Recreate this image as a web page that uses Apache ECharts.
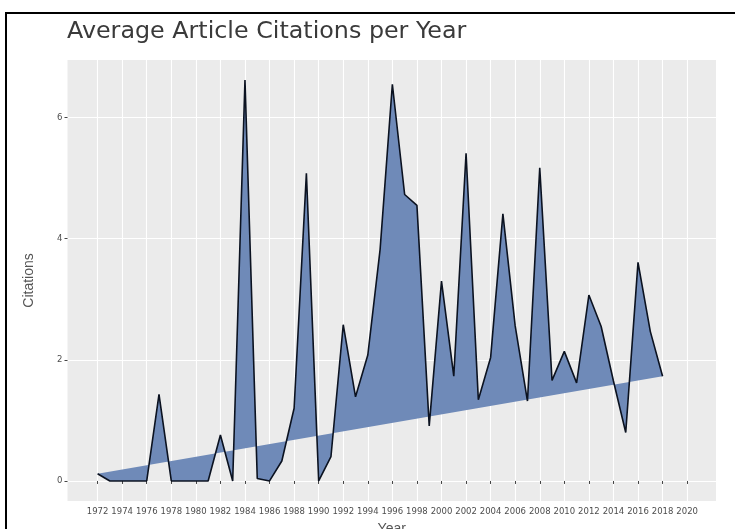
<!DOCTYPE html>
<html>
<head>
<meta charset="utf-8">
<script src="https://cdn.jsdelivr.net/npm/echarts@6/dist/echarts.min.js"></script>
<style>
  html, body { margin: 0; padding: 0; background: #fff; }
  #main { width: 735px; height: 529px; }
</style>
</head>
<body>
<div id="main"></div>
<script>
  // years and average citations
  var years = [1972, 1973, 1974, 1975, 1976, 1977, 1978, 1979, 1980, 1981,
               1982, 1983, 1984, 1985, 1986, 1987, 1988, 1989, 1990, 1991,
               1992, 1993, 1994, 1995, 1996, 1997, 1998, 1999, 2000, 2001,
               2002, 2003, 2004, 2005, 2006, 2007, 2008, 2009, 2010, 2011,
               2012, 2013, 2014, 2015, 2016, 2017, 2018];
  var citations = [0.12, 0, 0, 0, 0, 1.43, 0, 0, 0, 0,
                   0.76, 0, 6.62, 0.04, 0, 0.33, 1.2, 5.08, 0, 0.4,
                   2.58, 1.39, 2.08, 3.82, 6.55, 4.73, 4.55, 0.91, 3.30, 1.73,
                   5.41, 1.34, 2.04, 4.41, 2.56, 1.32, 5.17, 1.66, 2.14, 1.62,
                   3.07, 2.55, 1.65, 0.80, 3.61, 2.47, 1.73];
  var xTicks = [1972, 1974, 1976, 1978, 1980, 1982, 1984, 1986, 1988, 1990,
                1992, 1994, 1996, 1998, 2000, 2002, 2004, 2006, 2008, 2010,
                2012, 2014, 2016, 2018, 2020];
  var yTicks = [0, 2, 4, 6];

  var points = years.map(function (y, i) { return [y, citations[i]]; });

  var myChart = echarts.init(document.getElementById('main'));

  var option = {
    backgroundColor: '#fff',
    animation: false,
    title: {
      text: 'Average Article Citations per Year',
      left: 62,
      top: 15,
      textStyle: { fontFamily: 'DejaVu Sans', fontSize: 23.8, fontWeight: 'normal', color: '#3a3a3a' }
    },
    grid: {
      left: 67.5, right: 19, top: 60, bottom: 28,
      show: true, backgroundColor: '#EBEBEB', borderWidth: 0,
      containLabel: false,
      outerBoundsMode: 'none'
    },
    xAxis: {
      type: 'value',
      min: 1969.55,
      max: 2022.35,
      name: 'Year',
      nameLocation: 'middle',
      nameGap: 21,
      nameTextStyle: { fontFamily: 'Liberation Sans', fontSize: 14, color: '#555' },
      axisLine: { show: false },
      axisTick: { show: true, length: 3, lineStyle: { color: '#444', width: 1 }, customValues: xTicks },
      axisLabel: { customValues: xTicks, margin: 6, fontFamily: 'DejaVu Sans', fontSize: 8.5, color: '#4d4d4d',
                   formatter: function (v) { return String(v); } },
      splitLine: { show: true, lineStyle: { color: '#fff', width: 1.1 } }
    },
    yAxis: {
      type: 'value',
      min: -0.331,
      max: 6.951,
      name: 'Citations',
      nameLocation: 'middle',
      nameGap: 31,
      nameRotate: 90,
      nameTextStyle: { fontFamily: 'Liberation Sans', fontSize: 14, color: '#555' },
      axisLine: { show: false },
      axisTick: { show: true, length: 3, lineStyle: { color: '#444', width: 1 }, customValues: yTicks },
      axisLabel: { customValues: yTicks, margin: 5, fontFamily: 'DejaVu Sans', fontSize: 8.5, color: '#4d4d4d' },
      splitLine: { show: true, lineStyle: { color: '#fff', width: 1.1 } }
    },
    series: [
      {
        // filled polygon: the line closed back to its first point
        type: 'custom',
        z: 1,
        data: [0],
        renderItem: function (params, api) {
          var pts = points.map(function (p) { return api.coord(p); });
          return {
            type: 'polygon',
            shape: { points: pts },
            style: { fill: '#6F8AB8', stroke: 'none' }
          };
        }
      },
      {
        type: 'line',
        z: 2,
        data: points,
        symbol: 'none',
        lineStyle: { color: '#0b1220', width: 1.6 }
      }
    ],
    graphic: [
      {
        type: 'rect',
        silent: true,
        shape: { x: 6, y: 13, width: 800, height: 600 },
        style: { fill: 'none', stroke: '#000', lineWidth: 2 }
      }
    ]
  };

  myChart.setOption(option);
</script>
</body>
</html>
